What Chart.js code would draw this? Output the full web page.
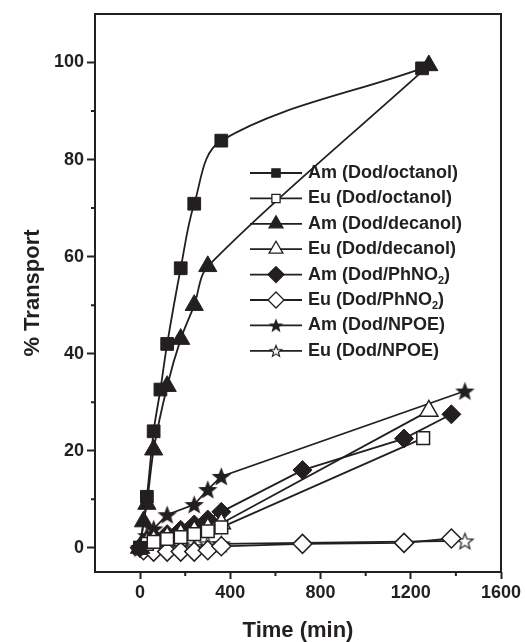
<!DOCTYPE html>
<html>
<head>
<meta charset="utf-8">
<script src="https://cdn.jsdelivr.net/npm/chart.js@4/dist/chart.umd.min.js"></script>
<style>
  html, body { margin: 0; padding: 0; background: #fff; }
  #wrap { width: 525px; height: 642px; position: relative; }
</style>
</head>
<body>
<div id="wrap"><canvas id="myChart"></canvas></div>
<script>
'use strict';

// dane (czas w min, % transportu)
var amOctT = [0, 30, 60, 90, 120, 180, 240, 360, 1250];
var amOctY = [0, 10.5, 24, 32.6, 42, 57.6, 70.9, 83.9, 98.8];
var euOctT = [0, 30, 60, 120, 180, 240, 300, 360, 1255];
var euOctY = [0, 0.8, 1.2, 1.8, 2.2, 2.8, 3.4, 4.2, 22.6];
var amDecT = [0, 15, 30, 60, 120, 180, 240, 300, 1280];
var amDecY = [0, 5.4, 9, 20.2, 33.3, 43, 50, 58, 99.4];
var euDecT = [0, 30, 60, 120, 180, 240, 300, 360, 1280];
var euDecY = [0, 1, 1.5, 2.2, 2.8, 3.4, 4, 5, 28.2];
var amPhT = [0, 30, 60, 120, 180, 240, 300, 360, 720, 1170, 1380];
var amPhY = [0, 1.5, 2.2, 2.8, 3.7, 4.8, 5.8, 7.4, 16, 22.5, 27.5];
var euPhT = [0, 15, 60, 120, 180, 240, 300, 360, 720, 1170, 1380];
var euPhY = [0, -0.5, -0.8, -0.8, -0.8, -0.8, -0.5, 0.3, 0.8, 1.0, 1.9];
var amNpT = [0, 30, 60, 120, 240, 300, 360, 1440];
var amNpY = [0, 2.5, 3.9, 6.8, 8.9, 12, 14.7, 32.3];
var euNpT = [0, 60, 120, 180, 240, 300, 360, 1440];
var euNpY = [0, 0.6, 0.2, 0.6, 0.2, 0.8, 0.8, 1.4];

var labels = ['Am (Dod/octanol)', 'Eu (Dod/octanol)', 'Am (Dod/decanol)', 'Eu (Dod/decanol)',
              'Am (Dod/PhNO\u2082)', 'Eu (Dod/PhNO\u2082)', 'Am (Dod/NPOE)', 'Eu (Dod/NPOE)'];
var xTicks = [0, 400, 800, 1200, 1600];
var xMinor = [200, 600, 1000, 1400];
var yTicks = [0, 20, 40, 60, 80, 100];
var yMinor = [10, 30, 50, 70, 90];

var BLACK = '#231f20';
var FONT = "'Liberation Sans', Arial, sans-serif";

//gwiazdka jako obrazek (chart.js nie ma pięcioramiennej)
function makeStar(r, filled) {
  var c = document.createElement('canvas');
  c.width = c.height = Math.ceil(2 * r + 4);
  var g = c.getContext('2d');
  var cx = c.width / 2, cy = c.height / 2 + r * 0.1;
  g.beginPath();
  for (var i = 0; i < 10; i++) {
    var rr = i % 2 ? r * 0.42 : r;
    var a = -Math.PI / 2 + i * Math.PI / 5;
    g.lineTo(cx + rr * Math.cos(a), cy + rr * Math.sin(a));
  }
  g.closePath();
  g.fillStyle = filled ? BLACK : '#fff';
  g.fill();
  g.lineWidth = 1.2;
  g.strokeStyle = BLACK;
  g.stroke();
  return c;
}

function pts(t, v) {
  return t.map(function(x, i) { return {x: x, y: v[i]}; });
}

// styl każdej serii: [czasy, wartości, znacznik, wypełniony, promień, promień w legendzie, napięcie krzywej]
var series = [
  [amOctT, amOctY, 'rect', true, 9, 5.5, 0.35],
  [euOctT, euOctY, 'rect', false, 9, 5.5, 0],
  [amDecT, amDecY, 'triangle', true, 10.5, 8, 0.3],
  [euDecT, euDecY, 'triangle', false, 10.5, 8, 0],
  [amPhT, amPhY, 'rectRot', true, 9.5, 8, 0],
  [euPhT, euPhY, 'rectRot', false, 9.5, 8, 0],
  [amNpT, amNpY, 'star', true, 8.5, 6, 0],
  [euNpT, euNpY, 'star', false, 8.5, 6, 0]
];

var datasets = series.map(function(s, i) {
  var style = s[2] === 'star' ? makeStar(s[4], s[3]) : s[2];
  return {
    label: labels[i],
    data: pts(s[0], s[1]),
    showLine: true,
    borderColor: BLACK,
    borderWidth: 1.8,
    tension: s[6],
    pointStyle: style,
    pointRadius: s[4],
    pointHoverRadius: s[4],
    pointBackgroundColor: s[3] ? BLACK : '#fff',
    pointBorderColor: BLACK,
    pointBorderWidth: s[3] ? 1 : 1.5
  };
});

function drawMarker(ctx, type, filled, r, x, y) {
  if (type === 'star') {
    var img = makeStar(r, filled);
    ctx.drawImage(img, x - img.width / 2, y - img.height / 2);
    return;
  }
  ctx.beginPath();
  if (type === 'rect') {
    ctx.rect(x - r * 0.75, y - r * 0.75, r * 1.5, r * 1.5);
  } else if (type === 'triangle') {
    ctx.moveTo(x, y - r);
    ctx.lineTo(x + r * 0.866, y + r * 0.5);
    ctx.lineTo(x - r * 0.866, y + r * 0.5);
    ctx.closePath();
  } else {
    ctx.moveTo(x, y - r);
    ctx.lineTo(x + r, y);
    ctx.lineTo(x, y + r);
    ctx.lineTo(x - r, y);
    ctx.closePath();
  }
  ctx.fillStyle = filled ? BLACK : '#fff';
  ctx.fill();
  ctx.lineWidth = 1.3;
  ctx.strokeStyle = BLACK;
  ctx.stroke();
}

//ramka, małe kreski osi i legenda wewnątrz wykresu
var extras = {
  id: 'extras',
  afterDraw: function(chart) {
    var ctx = chart.ctx;
    var a = chart.chartArea;
    var sx = chart.scales.x, sy = chart.scales.y;
    ctx.save();
    ctx.strokeStyle = BLACK;
    ctx.lineWidth = 2;
    ctx.strokeRect(a.left, a.top, a.right - a.left, a.bottom - a.top);
    ctx.beginPath();
    xMinor.forEach(function(v) {
      var px = sx.getPixelForValue(v);
      ctx.moveTo(px, a.bottom);
      ctx.lineTo(px, a.bottom + 4);
    });
    yMinor.forEach(function(v) {
      var py = sy.getPixelForValue(v);
      ctx.moveTo(a.left, py);
      ctx.lineTo(a.left - 4, py);
    });
    ctx.stroke();

    // legenda
    for (var i = 0; i < series.length; i++) {
      var y = 173 + i * 25.4;
      ctx.beginPath();
      ctx.lineWidth = 1.8;
      ctx.strokeStyle = BLACK;
      ctx.moveTo(250, y);
      ctx.lineTo(302, y);
      ctx.stroke();
      drawMarker(ctx, series[i][2], series[i][3], series[i][5], 276, y);
      ctx.fillStyle = BLACK;
      ctx.textBaseline = 'middle';
      ctx.textAlign = 'left';
      var parts = labels[i].split('\u2082');
      ctx.font = 'bold 18px ' + FONT;
      var tx = 308;
      ctx.fillText(parts[0], tx, y);
      if (parts.length > 1) {
        tx += ctx.measureText(parts[0]).width;
        ctx.font = 'bold 11px ' + FONT;
        ctx.fillText('2', tx, y + 6);
        tx += ctx.measureText('2').width;
        ctx.font = 'bold 18px ' + FONT;
        ctx.fillText(parts[1], tx, y);
      }
    }
    ctx.restore();
  }
};

var tickFont = {family: FONT, size: 18, weight: 'bold'};
var titleFont = {family: FONT, size: 22, weight: 'bold', lineHeight: 1};

function plainLabel(v) { return String(v); }

var ctx = document.getElementById('myChart').getContext('2d');
var chart = new Chart(ctx, {
  type: 'scatter',
  data: { datasets: datasets },
  plugins: [extras],
  options: {
    responsive: true,
    maintainAspectRatio: false,
    animation: false,
    layout: { padding: { left: 0, right: 24, top: 14, bottom: 0 } },
    plugins: {
      legend: { display: false },
      tooltip: { enabled: false }
    },
    scales: {
      x: {
        type: 'linear',
        min: -200,
        max: 1600,
        afterBuildTicks: function(s) { s.ticks = xTicks.map(function(v) { return {value: v}; }); },
        afterFit: function(s) { s.height = 70; },
        grid: { drawOnChartArea: false, tickLength: 7, tickWidth: 2, tickColor: BLACK },
        border: { display: false },
        ticks: { font: tickFont, color: BLACK, padding: 3, maxRotation: 0, callback: plainLabel },
        title: { display: true, text: 'Time (min)', font: titleFont, color: BLACK, padding: { top: 0, bottom: 0 } }
      },
      y: {
        type: 'linear',
        min: -5,
        max: 110,
        afterBuildTicks: function(s) { s.ticks = yTicks.map(function(v) { return {value: v}; }); },
        afterFit: function(s) { s.width = 95; },
        grid: { drawOnChartArea: false, tickLength: 8, tickWidth: 2, tickColor: BLACK },
        border: { display: false },
        ticks: { font: tickFont, color: BLACK, padding: 3, callback: plainLabel },
        title: { display: true, text: '% Transport', font: titleFont, color: BLACK, padding: { top: 22, bottom: 0 } }
      }
    }
  }
});
</script>
</body>
</html>
